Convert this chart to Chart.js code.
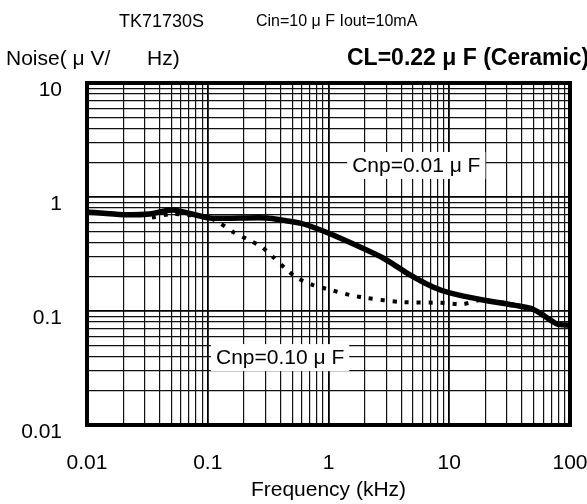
<!doctype html>
<html lang="en">
<head>
<meta charset="utf-8">
<title>TK71730S Noise vs Frequency</title>
<style>
  html, body { margin: 0; padding: 0; background: #fff; }
  #wrap { width: 587px; height: 504px; position: relative; }
</style>
</head>
<body>
<div id="wrap"><canvas id="noiseChart"></canvas></div>

<script src="https://cdn.jsdelivr.net/npm/chart.js"></script>
<script>
// axis decades and their labels
const xDecades = [0.01, 0.1, 1, 10, 100];
const xTickLabels = ['0.01', '0.1', '1', '10', '100'];
const yDecades = [0.01, 0.1, 1, 10];
const yTickLabels = ['0.01', '0.1', '1', '10'];

// Cnp = 0.01 uF (solid line)
const solidFreq  = [0.01, 0.02, 0.033, 0.0515, 0.104, 0.31, 0.58, 0.70, 1.09, 2.83, 4.73, 7.33, 10.1, 19.0, 46.6, 56.5, 78, 100];
const solidNoise = [0.74, 0.70, 0.71, 0.77, 0.655, 0.655, 0.59, 0.557, 0.464, 0.292, 0.207, 0.162, 0.144, 0.125, 0.106, 0.096, 0.077, 0.075];

// Cnp = 0.10 uF (dotted line)
const dottedFreq  = [0.0345, 0.0515, 0.104, 0.126, 0.162, 0.211, 0.281, 0.347, 0.436, 0.548, 0.744, 0.97, 1.51, 2.08, 3.91, 8.38, 13.0, 19.0, 46.6, 56.5, 78, 100];
const dottedNoise = [0.66, 0.71, 0.655, 0.59, 0.493, 0.428, 0.364, 0.298, 0.238, 0.195, 0.169, 0.156, 0.138, 0.130, 0.12, 0.118, 0.115, 0.125, 0.106, 0.096, 0.077, 0.075];

const FONT = "'Liberation Sans', Arial, sans-serif";

function toPoints(xs, ys) {
  return xs.map((x, i) => ({ x: x, y: ys[i] }));
}

// 1..9 per decade, so every grid line of the log paper is drawn
function logTicks(decades) {
  const out = [];
  for (let i = 0; i < decades.length - 1; i++) {
    for (let m = 1; m < 10; m++) out.push(decades[i] * m);
  }
  out.push(decades[decades.length - 1]);
  return out;
}

function isDecade(v) {
  const l = Math.log10(v);
  return Math.abs(l - Math.round(l)) < 1e-6;
}

function labelFor(decades, labels) {
  return function (value) {
    const i = decades.findIndex(d => Math.abs(d - value) / d < 1e-6);
    return i >= 0 ? labels[i] : '';
  };
}

const gridStyle = {
  drawTicks: false,
  color: ctx => (ctx.tick && isDecade(ctx.tick.value)) ? '#000' : '#111',
  lineWidth: ctx => (ctx.tick && isDecade(ctx.tick.value)) ? 1.8 : 1.2
};

// white boxed labels on the grid
const notes = [
  { text: 'Cnp=0.01 μ F', x: 1.57, y: 1.91 },
  { text: 'Cnp=0.10 μ F', x: 0.117, y: 0.0394 }
];

const paperPlugin = {
  id: 'paper',
  beforeDatasetsDraw(chart) {
    const ctx = chart.ctx;
    const xs = chart.scales.x, ys = chart.scales.y;
    ctx.save();
    ctx.font = '21px ' + FONT;
    ctx.textBaseline = 'middle';
    notes.forEach(n => {
      const px = xs.getPixelForValue(n.x);
      const py = ys.getPixelForValue(n.y);
      const w = ctx.measureText(n.text).width;
      ctx.fillStyle = '#fff';
      ctx.fillRect(px - 5, py - 13, w + 10, 27);
      ctx.fillStyle = '#000';
      ctx.fillText(n.text, px, py + 1);
    });
    ctx.restore();
  },
  afterDraw(chart) {
    const ctx = chart.ctx;
    const a = chart.chartArea;
    ctx.save();
    ctx.strokeStyle = '#000';
    ctx.lineWidth = 4;
    ctx.strokeRect(a.left, a.top, a.right - a.left, a.bottom - a.top);

    ctx.fillStyle = '#000';
    ctx.textBaseline = 'middle';
    ctx.font = '18px ' + FONT;
    ctx.fillText('TK71730S', 119, 22);
    ctx.font = '16px ' + FONT;
    ctx.fillText('Cin=10 μ F Iout=10mA', 256, 22);
    ctx.font = '21px ' + FONT;
    ctx.fillText('Noise( μ V/', 6, 59);
    ctx.fillText('Hz)', 147, 59);
    ctx.font = 'bold 23px ' + FONT;
    ctx.fillText('CL=0.22 μ F (Ceramic)', 347, 59);
    ctx.restore();
  }
};

const config = {
  type: 'scatter',
  data: {
    datasets: [
      {
        label: 'Cnp=0.01uF',
        data: toPoints(solidFreq, solidNoise),
        showLine: true,
        borderColor: '#000',
        borderWidth: 5.5,
        pointRadius: 0,
        tension: 0.25,
        borderCapStyle: 'round',
        borderJoinStyle: 'round'
      },
      {
        label: 'Cnp=0.10uF',
        data: toPoints(dottedFreq, dottedNoise),
        showLine: true,
        borderColor: '#000',
        borderWidth: 4,
        borderDash: [4, 8],
        pointRadius: 0,
        tension: 0.25
      }
    ]
  },
  options: {
    responsive: true,
    maintainAspectRatio: false,
    animation: false,
    layout: { padding: { top: 83, right: 17, bottom: 0, left: 0 } },
    plugins: {
      legend: { display: false },
      tooltip: { enabled: false }
    },
    scales: {
      x: {
        type: 'logarithmic',
        min: 0.01,
        max: 100,
        border: { display: false },
        grid: gridStyle,
        afterBuildTicks: s => { s.ticks = logTicks(xDecades).map(v => ({ value: v })); },
        afterFit: s => { s.height = 79; s.paddingLeft = 0; s.paddingRight = 0; },
        ticks: {
          autoSkip: false,
          maxRotation: 0,
          padding: 26,
          color: '#000',
          font: { family: FONT, size: 21 },
          callback: labelFor(xDecades, xTickLabels)
        },
        title: {
          display: true,
          text: 'Frequency (kHz)',
          color: '#000',
          font: { family: FONT, size: 21 },
          padding: { top: 0, bottom: 1 }
        }
      },
      y: {
        type: 'logarithmic',
        min: 0.01,
        max: 10,
        border: { display: false },
        grid: gridStyle,
        afterBuildTicks: s => { s.ticks = logTicks(yDecades).map(v => ({ value: v })); },
        afterFit: s => { s.width = 87; s.paddingTop = 0; s.paddingBottom = 0; },
        ticks: {
          autoSkip: false,
          padding: 25,
          labelOffset: 7,
          color: '#000',
          font: { family: FONT, size: 21 },
          callback: labelFor(yDecades, yTickLabels)
        }
      }
    }
  },
  plugins: [paperPlugin]
};

const myChart = new Chart(document.getElementById('noiseChart'), config);
</script>
</body>
</html>
